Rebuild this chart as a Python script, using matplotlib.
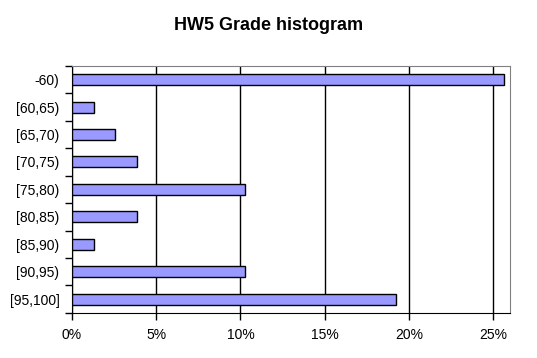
import matplotlib.pyplot as plt
import numpy as np

plt.rcParams['font.family'] = ['Liberation Sans', 'DejaVu Sans']

bins = ['-60)', '[60,65)', '[65,70)', '[70,75)', '[75,80)',
        '[80,85)', '[85,90)', '[90,95)', '[95,100]']
pct = [25.64, 1.28, 2.56, 3.85, 10.26, 3.85, 1.28, 10.26, 19.23]
xticks = [0, 5, 10, 15, 20, 25]

fig = plt.figure(figsize=(5.37, 3.58), dpi=100)
ax = fig.add_axes([0.134, 0.126, 0.816, 0.690])

y = np.arange(len(bins))
ax.barh(y, pct, height=0.4, color='#9999FF', edgecolor='black', linewidth=1, zorder=3)

ax.set_xlim(0, 26)
ax.set_ylim(len(bins) - 0.5, -0.5)
ax.set_xticks(xticks)
ax.set_xticklabels([f'{t}%' for t in xticks], fontsize=10)
ax.set_yticks(y)
ax.set_yticklabels(bins, fontsize=10)
ax.tick_params(axis='y', length=0, pad=9)
ax.set_yticks(np.arange(len(bins) + 1) - 0.5, minor=True)
ax.tick_params(axis='y', which='minor', length=5, width=1, direction='out')
ax.tick_params(axis='x', length=5, width=1, direction='out', pad=6)

ax.grid(axis='x', color='black', linewidth=1, zorder=0)
for s in ['top', 'right']:
    ax.spines[s].set_color('#808080')
for s in ['left', 'bottom']:
    ax.spines[s].set_color('black')

fig.text(0.5, 0.93, 'HW5 Grade histogram', ha='center', va='center',
         fontsize=13, fontweight='bold')

fig.savefig('out.png', dpi=100)
